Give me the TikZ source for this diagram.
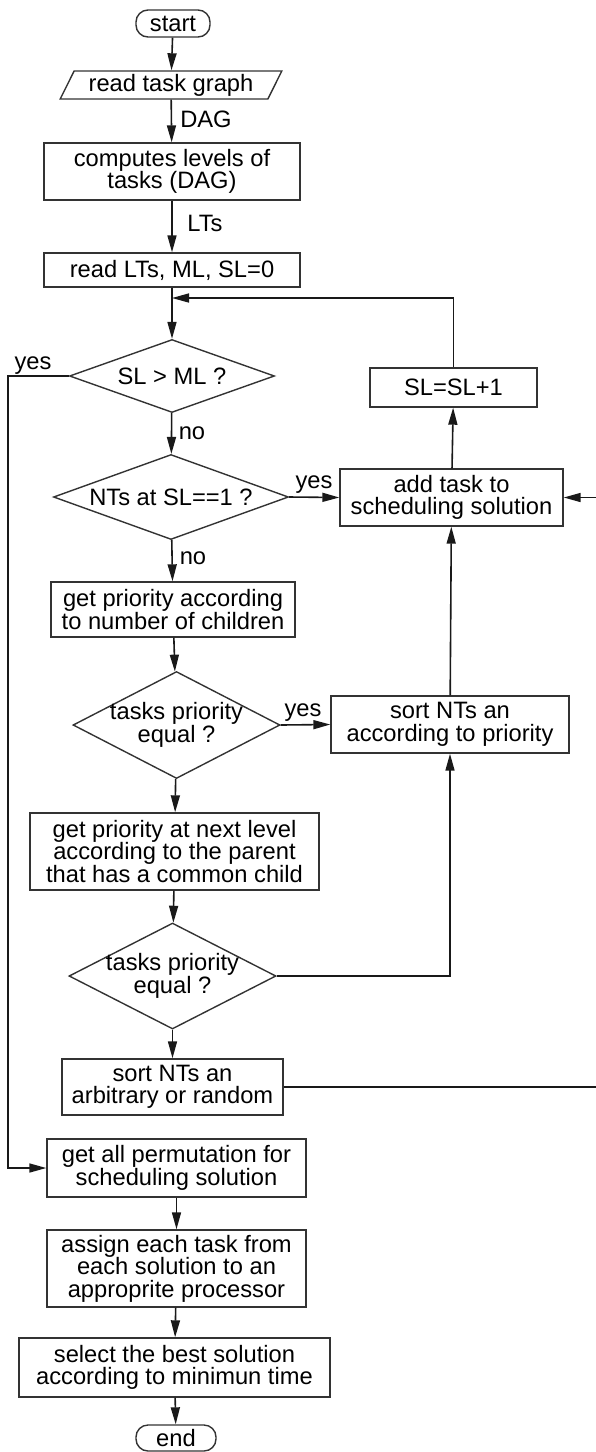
\documentclass[tikz,border=0pt]{standalone}
\usepackage{fontspec}
\setmainfont{Liberation Sans}
\usetikzlibrary{shapes.geometric, arrows.meta}

\begin{document}
\begin{tikzpicture}[x=1pt, y=-1pt, every node/.style={font=\fontsize{23.7}{22.5}\selectfont},
  proc/.style={draw=black!80, line width=1.4pt, rectangle, align=center, inner sep=2pt},
  term/.style={proc, rounded corners=12pt},
  io/.style={proc, trapezium, trapezium left angle=65, trapezium right angle=115, trapezium stretches},
  dec/.style={draw=black!80, line width=1.4pt, diamond, inner sep=0pt, label={[align=center]center:#1}},
  lbl/.style={inner sep=0pt},
  conn/.style={draw=black!90, line width=1.6pt, -{Triangle[length=17pt,width=9pt]}}]
  \useasboundingbox (0,0) rectangle (596,1452);
  \clip (0,0) rectangle (596,1452);

  \node[term, minimum width=74, minimum height=27] (start) at (173,23.5) {start};
  \node[io, minimum width=222, minimum height=28] (read) at (171,85) {read task graph};
  \node[proc, minimum width=256, minimum height=57] (comp) at (172,171.5) {computes levels of\\tasks (DAG)};
  \node[proc, minimum width=256, minimum height=34] (rlt) at (172,270) {read LTs, ML, SL=0};
  \coordinate (jn) at (172,298);
  \node[dec={SL > ML ?}, minimum width=205, minimum height=73] (d1) at (172,376) {};
  \node[dec={NTs at SL==1 ?}, minimum width=235, minimum height=85] (d2) at (171,497) {};
  \node[proc, minimum width=244, minimum height=55] (gp1) at (173,609.5) {get priority according\\to number of children};
  \node[dec={tasks priority\\equal ?}, minimum width=207, minimum height=107] (d3) at (176.5,725) {};
  \node[proc, minimum width=289, minimum height=77] (gp2) at (174.5,851.5) {get priority at next level\\according to the parent\\that has a common child};
  \node[dec={tasks priority\\equal ?}, minimum width=207, minimum height=106] (d4) at (172.5,976) {};
  \node[proc, minimum width=221, minimum height=56] (arb) at (172.5,1087) {sort NTs an\\arbitrary or random};
  \node[proc, minimum width=259, minimum height=58] (perm) at (176.5,1168) {get all permutation for\\scheduling solution};
  \node[proc, minimum width=259, minimum height=77] (asg) at (176.5,1268.5) {assign each task from\\each solution to an\\approprite processor};
  \node[proc, minimum width=311, minimum height=59] (sel) at (174.5,1367.5) {select the best solution\\according to minimun time};
  \node[term, minimum width=80, minimum height=26] (end) at (176,1438) {end};

  \node[proc, minimum width=167, minimum height=39] (sl1) at (453.5,387.5) {SL=SL+1};
  \node[proc, minimum width=223, minimum height=57] (add) at (451.5,497.5) {add task to\\scheduling solution};
  \node[proc, minimum width=238, minimum height=57] (srt) at (450,724.5) {sort NTs an\\according to priority};

  \node[lbl] (dag) at (206,119) {DAG};
  \node[lbl] (lts) at (205,223) {LTs};
  \node[lbl] (yes1) at (33,366) {yes};
  \node[lbl] (no1) at (192,433) {no};
  \node[lbl] (yes2) at (314,485) {yes};
  \node[lbl] (no2) at (193,558) {no};
  \node[lbl] (yes3) at (303,713) {yes};

  \coordinate (yl) at (8,376);
  \coordinate (rt) at (612,1087);

  \draw[conn] (start) -- (read);
  \draw[conn] (read) -- (comp);
  \draw[conn] (comp) -- (rlt);
  \draw[conn] (rlt) -- (d1);
  \draw[conn] (sl1.north) |- (jn);
  \draw[conn] (d1) -- (d2);
  \draw[conn] (d1.west) -- (yl) |- (perm.west);
  \draw[conn] (d2.east) -- (add.west);
  \draw[conn] (d2) -- (gp1);
  \draw[conn] (gp1) -- (d3);
  \draw[conn] (d3.east) -- (srt.west);
  \draw[conn] (d3) -- (gp2);
  \draw[conn] (gp2) -- (d4);
  \draw[conn] (d4) -- (arb);
  \draw[conn] (d4.east) -| (srt.south);
  \draw[conn] (arb.east) -- (rt) |- (add.east);
  \draw[conn] (add) -- (sl1);
  \draw[conn] (srt) -- (add);
  \draw[conn] (perm) -- (asg);
  \draw[conn] (asg) -- (sel);
  \draw[conn] (sel) -- (end);
\end{tikzpicture}
\end{document}
